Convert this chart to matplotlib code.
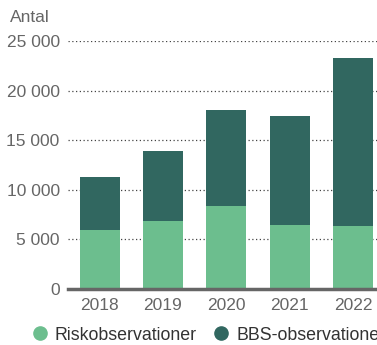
import matplotlib
matplotlib.use("Agg")
import matplotlib.pyplot as plt
from matplotlib.lines import Line2D

years = ["2018", "2019", "2020", "2021", "2022"]
risk_obs = [5900, 6800, 8300, 6450, 6350]
total_obs = [11250, 13900, 18050, 17450, 23250]
bbs_obs = [t - r for t, r in zip(total_obs, risk_obs)]
y_ticks = [0, 5000, 10000, 15000, 20000, 25000]
y_tick_labels = ["0", "5 000", "10 000", "15 000", "20 000", "25 000"]

LIGHT = "#6cbe8e"
DARK = "#316760"
TEXT = "#666666"

plt.rcParams["font.family"] = ["Liberation Sans", "DejaVu Sans"]

fig = plt.figure(figsize=(3.77, 3.45), dpi=100)
ax = fig.add_axes([0.1804, 0.1635, 0.8396, 0.7177])

x = range(len(years))
ax.bar(x, risk_obs, width=0.63, color=LIGHT, zorder=3)
ax.bar(x, bbs_obs, width=0.63, bottom=risk_obs, color=DARK, zorder=3)

ax.set_xlim(-0.5, 4.5)
ax.set_ylim(0, 25000)
ax.set_yticks(y_ticks)
ax.set_yticklabels(y_tick_labels)
ax.set_xticks(list(x))
ax.set_xticklabels(years)
ax.tick_params(axis="both", length=0, labelsize=12.5, labelcolor=TEXT)
ax.tick_params(axis="y", pad=6)
ax.tick_params(axis="x", pad=7)

ax.yaxis.grid(True, linestyle=(0, (1, 2)), linewidth=0.9, color="#444444", zorder=0)
ax.set_axisbelow(True)
for side in ["top", "right", "left"]:
    ax.spines[side].set_visible(False)
ax.spines["bottom"].set_color("#666666")
ax.spines["bottom"].set_linewidth(2.5)
ax.spines["bottom"].set_zorder(4)

fig.text(10 / 377, 1 - 18 / 345, "Antal", fontsize=12.5, color=TEXT,
         va="center", ha="left")

handles = [
    Line2D([], [], marker="o", linestyle="none", markersize=9.5,
           markerfacecolor=LIGHT, markeredgecolor=LIGHT),
    Line2D([], [], marker="o", linestyle="none", markersize=9.5,
           markerfacecolor=DARK, markeredgecolor=DARK),
]
fig.legend(handles, ["Riskobservationer", "BBS-observationer"],
           loc="center left", bbox_to_anchor=(22 / 377, 1 - 335 / 345),
           ncol=2, frameon=False, fontsize=12.8, handletextpad=0.25,
           columnspacing=0.75, borderaxespad=0, handlelength=1.2,
           labelcolor="#333333")

fig.savefig("out.png", dpi=100)
